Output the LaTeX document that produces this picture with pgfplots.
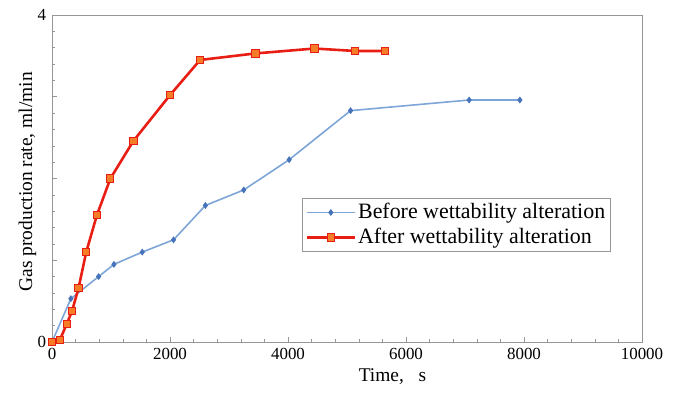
\documentclass[border=0pt]{standalone}
\usepackage{fontspec}
\setmainfont{Liberation Serif}
\usepackage{pgfplots}
\pgfplotsset{compat=1.18}
\usetikzlibrary{calc}
\definecolor{beforeline}{RGB}{125,165,215}
\definecolor{beforemark}{RGB}{70,115,185}
\definecolor{afterline}{RGB}{232,30,20}
\definecolor{aftermark}{RGB}{245,125,40}
\definecolor{frame}{RGB}{150,150,150}

\begin{document}
\begin{tikzpicture}
\fontsize{17}{20}\selectfont
\begin{axis}[
    name=ax,
    scale only axis,
    width=590bp, height=327bp,
    xmin=0, xmax=10000,
    ymin=0, ymax=4,
    xtick={0,2000,4000,6000,8000,10000},
    minor x tick num=4,
    ytick={0,1,2,3,4},
    yticklabels={0,,,,4},
    minor y tick num=4,
    scaled x ticks=false,
    /pgf/number format/assume math mode=true,
    /pgf/number format/1000 sep={},
    tick label style={font=\fontsize{17}{20}\selectfont},
    axis line style={frame, line width=1pt},
    every tick/.style={frame, line width=0.6pt},
    major tick length=5pt, minor tick length=3pt,
    xtick pos=bottom, ytick pos=left,
    xlabel={Time,\ \ \ s},
    xlabel style={at={(axis description cs:0.577,0)}, anchor=north, yshift=-21pt, font=\fontsize{19.5}{22}\selectfont},
    ylabel={Gas production rate, ml/min},
    ylabel style={at={(axis description cs:0,0.49)}, anchor=south, yshift=10pt, font=\fontsize{19.5}{22}\selectfont},
    legend style={at={(0.424,0.44)}, anchor=north west, draw=frame, line width=0.8pt,
        font=\fontsize{22}{24}\selectfont, row sep=3pt, inner sep=3pt},
    legend cell align=left,
    legend image code/.code={
        \draw[mark repeat=2,mark phase=2,#1]
            plot coordinates {(0bp,0bp) (24bp,0bp) (48bp,0bp)};},
]
\addplot[color=beforeline, line width=1.6pt, mark=diamond*,
    mark size=2.2pt, mark options={fill=beforemark, draw=beforemark}]
coordinates {
    (0,0) (320,0.53) (790,0.80) (1050,0.95) (1530,1.10) (2060,1.25)
    (2600,1.67) (3250,1.86) (4020,2.23) (5060,2.83) (7070,2.96) (7930,2.96)
};
\addlegendentry{Before wettability alteration}
\addplot[color=afterline, line width=2.6pt, mark=square*,
    mark size=3.6pt, mark options={fill=aftermark, draw=afterline, line width=1pt}]
coordinates {
    (0,0) (130,0.02) (250,0.22) (340,0.38) (450,0.66) (580,1.10) (760,1.55)
    (990,2.00) (1380,2.46) (2000,3.02) (2510,3.45) (3450,3.53) (4450,3.59)
    (5130,3.56) (5640,3.56)
};
\addlegendentry{After wettability alteration}
\end{axis}
\pgfresetboundingbox
\path ($(ax.south west)+(-52bp,-59bp)$) rectangle ($(ax.north east)+(37bp,15bp)$);
\end{tikzpicture}
\end{document}
